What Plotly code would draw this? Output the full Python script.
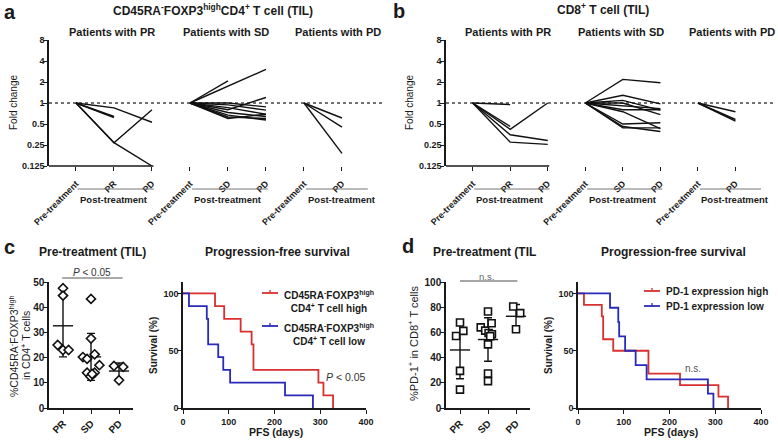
import numpy as np
import plotly.graph_objects as go

W, H = 778, 440
FONT = "Liberation Sans, Arial, sans-serif"
INK = "#1a1a1a"
RED = "#d7302f"
BLUE = "#2a2ab8"

# ---------------- data ----------------
a_title = "CD45RA<sup>-</sup>FOXP3<sup>high</sup>CD4<sup>+</sup> T cell (TIL)"
b_title = "CD8<sup>+</sup> T cell (TIL)"
group_headers = ["Patients with PR", "Patients with SD", "Patients with PD"]
ab_tick_labels = ["Pre-treatment", "PR", "PD", "Pre-treatment", "SD", "PD", "Pre-treatment", "PD"]
group_slots = [[0, 1, 2], [3, 4, 5], [6, 7]]
post_label = "Post-treatment"
fold_ticks = [0.125, 0.25, 0.5, 1, 2, 4, 8]
fold_tick_text = ["0.125", "0.25", "0.5", "1", "2", "4", "8"]

# fold change per patient: [pre, post1, (post2)]
a_pr = [[1, 0.85, 0.53], [1, 0.64, None], [1, 0.62, None], [1, 0.27, 0.80], [1, 0.27, 0.125]]
a_sd = [[1, 2.07, None], [1, 1.72, 3.03], [1, 1.00, 0.88], [1, 0.94, 0.79], [1, 0.80, 1.20],
        [1, 0.86, 0.69], [1, 0.73, 0.64], [1, 0.67, 0.57], [1, 0.63, 0.60], [1, 0.60, 0.69]]
a_pd = [[1, 0.61], [1, 0.45], [1, 0.19]]

b_pr = [[1, 0.95, None], [1, 0.42, 1.0], [1, 0.46, None], [1, 0.35, 0.29], [1, 0.275, 0.255]]
b_sd = [[1, 2.18, 1.95], [1, 1.29, 0.97], [1, 1.09, 0.79], [1, 1.00, 0.68], [1, 0.90, 0.83],
        [1, 0.80, 0.80], [1, 0.75, 0.43], [1, 0.50, 0.52], [1, 0.46, 0.39], [1, 0.44, 0.44]]
b_pd = [[1, 0.75], [1, 0.58], [1, 0.55]]

resp_groups = ["PR", "SD", "PD"]
# panel c: % CD45RA-FOXP3high in CD4+ T cells (pre-treatment)
c_vals = [[47.5, 44.6, 25.0, 23.0, 23.0],
          [43.3, 27.6, 20.2, 19.5, 21.3, 17.0, 14.0, 12.5, 14.0, 13.5],
          [16.7, 16.3, 11.0]]
c_spread = [[0, 0, -0.19, 0, 0.2],
            [0, 0, -0.29, -0.14, 0.13, 0.3, -0.14, -0.02, 0.13, 0.04],
            [-0.18, 0.15, 0]]
# panel d: % PD-1+ in CD8+ T cells (pre-treatment)
d_vals = [[67.8, 57.2, 61.2, 29.5, 14.6],
          [76.6, 64.0, 67.3, 61.4, 59.5, 58.5, 57.0, 50.5, 27.4, 21.3],
          [80.6, 75.3, 62.5]]
d_spread = [[0, -0.14, 0.12, 0, 0],
            [0, -0.26, 0.13, -0.1, 0.02, 0.14, 0.08, 0, 0, 0],
            [-0.1, 0.15, 0]]

# Kaplan-Meier step data (days, survival %)
c_hi_t = [0, 70, 90, 126, 150, 154, 296, 307, 328]
c_hi_s = [100, 88.9, 77.8, 66.7, 55.6, 33.3, 22.2, 11.1, 0]
c_lo_t = [0, 13, 52, 55, 77, 88, 103, 223, 284]
c_lo_s = [100, 88.9, 77.8, 55.6, 44.4, 33.3, 22.2, 11.1, 0]
d_hi_t = [0, 13, 52, 55, 77, 154, 223, 307, 328]
d_hi_s = [100, 90, 80, 60, 50, 30, 20, 10, 0]
d_lo_t = [0, 70, 88, 90, 103, 126, 150, 284, 296]
d_lo_s = [100, 87.5, 75, 62.5, 50, 37.5, 25, 12.5, 0]
c_legend = ["CD45RA<sup>-</sup>FOXP3<sup>high</sup><br>CD4<sup>+</sup> T cell high",
            "CD45RA<sup>-</sup>FOXP3<sup>high</sup><br>CD4<sup>+</sup> T cell low"]
d_legend = ["PD-1 expression high", "PD-1 expression low"]

# ---------------- helpers ----------------
def px(x):
    return x / W

def py(y):
    return 1 - y / H

annotations = []
shapes = []

def ann(text, x, y, size, bold=False, xanchor="center", yanchor="middle", angle=0,
        color=INK, xref="paper"):
    annotations.append(dict(
        text=("<b>%s</b>" % text) if bold else text,
        x=x if xref != "paper" else px(x), y=py(y), xref=xref, yref="paper",
        showarrow=False, xanchor=xanchor, yanchor=yanchor, textangle=angle,
        font=dict(size=size, color=color, family=FONT)))

def pline(x0, y0, x1, y1, color=INK, width=1.5, xref="paper", yref="paper"):
    shapes.append(dict(type="line", xref=xref, yref=yref,
                       x0=x0 if xref != "paper" else px(x0),
                       x1=x1 if xref != "paper" else px(x1),
                       y0=y0 if yref != "paper" else py(y0),
                       y1=y1 if yref != "paper" else py(y1),
                       line=dict(color=color, width=width)))

TICKS = dict(ticks="outside", ticklen=4, tickwidth=1.3, tickcolor=INK, showgrid=False,
             zeroline=False, automargin=False)

fig = go.Figure()

# ---------------- panels a / b ----------------
AB_RANGE = [-0.71, 8.08]
for (xa, ya, groups) in [("x", "y", [a_pr, a_sd, a_pd]), ("x2", "y2", [b_pr, b_sd, b_pd])]:
    fig.add_trace(go.Scatter(x=AB_RANGE, y=[1, 1], mode="lines", xaxis=xa, yaxis=ya,
                             line=dict(color="#444", width=1.3, dash="dot"), hoverinfo="skip"))
    for slots, pts in zip(group_slots, groups):
        for p in pts:
            fig.add_trace(go.Scatter(x=slots, y=p, mode="lines", xaxis=xa, yaxis=ya,
                                     line=dict(color="#111", width=1.4), connectgaps=False))

def ab_axes(xdom):
    xa = dict(domain=[px(xdom[0]), px(xdom[1])], range=AB_RANGE, tickmode="array",
              tickvals=list(range(8)), ticktext=ab_tick_labels, tickangle=-45,
              showline=False, ticklabelstandoff=4, **TICKS,
              tickfont=dict(size=9, family=FONT, color=INK, weight="bold"))
    ya = dict(domain=[py(166), py(40)], type="log", range=[np.log10(0.125), np.log10(8)],
              tickmode="array", tickvals=fold_ticks, ticktext=fold_tick_text,
              showline=True, linecolor=INK, linewidth=1.5, ticklabelstandoff=-3, **TICKS,
              tickfont=dict(size=9, family=FONT, color=INK, weight="bold"))
    return xa, ya

xa1, ya1 = ab_axes((49, 383))
xa2, ya2 = ab_axes((446, 776))
xa1["anchor"] = "y"; ya1["anchor"] = "x"
xa2["anchor"] = "y2"; ya2["anchor"] = "x2"

for xr, yr in [("x", "y"), ("x2", "y2")]:
    # first-segment axis line
    shapes.append(dict(type="line", xref=xr, yref=yr + " domain", x0=AB_RANGE[0], x1=2.04,
                       y0=0, y1=0, line=dict(color=INK, width=1.5)))
    for (s0, s1, c) in [(0.04, 2.05, 1), (3.05, 5.05, 4), (6.05, 7.68, 7)]:
        pline(s0, 189, s1, 189, color="#777", width=1, xref=xr)
        ann(post_label, c, 199, 9.5, bold=True, xref=xr)
    for hc, htxt in zip([0.95, 3.95, 6.9], group_headers):
        ann(htxt, hc, 32, 11, bold=True, xref=xr)

ann(a_title, 213, 10, 12, bold=True)
ann(b_title, 603, 9, 12, bold=True)
ann("Fold change", 13, 103, 10, angle=-90)
ann("Fold change", 409, 103, 10, angle=-90)
ann("a", 2, 12, 20, bold=True, xanchor="left")
ann("b", 391, 11, 20, bold=True, xanchor="left")
ann("c", 2, 247, 20, bold=True, xanchor="left")
ann("d", 400, 246, 20, bold=True, xanchor="left")

# ---------------- scatter panels c / d ----------------
def scatter_panel(xa, ya, vals, spread, symbol):
    for i, (v, s) in enumerate(zip(vals, spread)):
        v = np.array(v, dtype=float)
        m, sd = v.mean(), v.std(ddof=1)
        fig.add_trace(go.Scatter(x=[i], y=[m], mode="markers", xaxis=xa, yaxis=ya,
                                 marker=dict(size=1, color="rgba(0,0,0,0)"),
                                 error_y=dict(type="data", array=[sd], visible=True,
                                              color="#111", thickness=1.4, width=4)))
        fig.add_trace(go.Scatter(x=[i - 0.36, i + 0.36], y=[m, m], mode="lines",
                                 xaxis=xa, yaxis=ya, line=dict(color="#111", width=1.4)))
        fig.add_trace(go.Scatter(x=[i + o for o in s], y=v, mode="markers", xaxis=xa, yaxis=ya,
                                 marker=dict(symbol=symbol, size=7, color="white",
                                             line=dict(color="#111", width=1.6))))

scatter_panel("x3", "y3", c_vals, c_spread, "diamond")
scatter_panel("x5", "y5", d_vals, d_spread, "square")

def scat_axes(xdom, xanchor, yanchor, ymax, dtick):
    xa = dict(domain=[px(xdom[0]), px(xdom[1])], range=[-0.5, 2.5], tickmode="array",
              tickvals=[0, 1, 2], ticktext=resp_groups, tickangle=-45,
              showline=True, linecolor=INK, linewidth=1.5, anchor=yanchor, **TICKS,
              tickfont=dict(size=10, family=FONT, color=INK, weight="bold"))
    ya = dict(domain=[py(408), py(282)], range=[0, ymax], dtick=dtick,
              showline=True, linecolor=INK, linewidth=1.5, anchor=xanchor,
              ticklabelstandoff=-3, **TICKS,
              tickfont=dict(size=10, family=FONT, color=INK, weight="bold"))
    return xa, ya

xa3, ya3 = scat_axes((49, 133), "x3", "y3", 50, 10)
xa5, ya5 = scat_axes((446, 530), "x5", "y5", 100, 20)

ann("Pre-treatment (TIL)", 92, 252, 12, bold=True)
ann("Pre-treatment (TIL", 431, 252, 12, bold=True, xanchor="left")
pline(-0.03, 278, 2.13, 278, color="#555", width=1, xref="x3")
ann("<i>P</i> < 0.05", 1.05, 272, 10, color="#333", xref="x3")
pline(0.0, 281, 2.05, 281, color="#888", width=1.3, xref="x5")
ann("n.s.", 0.95, 276, 9.5, color="#666", xref="x5")
ann("%CD45RA<sup>-</sup>FOXP3<sup>high</sup>", 13, 346, 10.5, angle=-90)
ann("in CD4<sup>+</sup> T cells", 25, 346, 10.5, angle=-90)
ann("%PD-1<sup>+</sup> in CD8<sup>+</sup> T cells", 413, 344, 11, angle=-90)

# ---------------- Kaplan-Meier panels ----------------
for xa, ya, curves in [("x4", "y4", [(c_hi_t, c_hi_s, RED), (c_lo_t, c_lo_s, BLUE)]),
                       ("x6", "y6", [(d_hi_t, d_hi_s, RED), (d_lo_t, d_lo_s, BLUE)])]:
    for t, s, col in curves:
        fig.add_trace(go.Scatter(x=t, y=s, mode="lines", line_shape="hv", xaxis=xa, yaxis=ya,
                                 line=dict(color=col, width=1.8)))

def km_axes(xdom, xanchor, yanchor):
    xa = dict(domain=[px(xdom[0]), px(xdom[1])], range=[0, 400], dtick=100,
              showline=True, linecolor=INK, linewidth=1.5, anchor=yanchor, **TICKS,
              tickfont=dict(size=9, family=FONT, color=INK, weight="bold"))
    ya = dict(domain=[py(408), py(282)], range=[0, 110], tickmode="array",
              tickvals=[0, 50, 100], showline=True, linecolor=INK, linewidth=1.5,
              anchor=xanchor, ticklabelstandoff=-3, **TICKS,
              tickfont=dict(size=9, family=FONT, color=INK, weight="bold"))
    return xa, ya

xa4, ya4 = km_axes((183, 366), "x4", "y4")
xa6, ya6 = km_axes((578, 761), "x6", "y6")

for cx in (277, 673):
    ann("Progression-free survival", cx, 252, 12, bold=True)
ann("PFS (days)", 276, 432, 10.5, bold=True)
ann("PFS (days)", 671, 432, 10.5, bold=True)
ann("Survival (%)", 153, 346, 10, bold=True, angle=-90)
ann("Survival (%)", 548, 346, 10, bold=True, angle=-90)

# legends
for (yl, col, txt) in [(293, RED, c_legend[0]), (326, BLUE, c_legend[1])]:
    pline(262, yl, 278, yl, color=col, width=1.8)
    pline(270, yl, 270, yl - 3, color=col, width=1.3)
    ann(txt, 282, yl - 6, 10, bold=True, xanchor="left", yanchor="top")
for (yl, col, txt) in [(291, RED, d_legend[0]), (306, BLUE, d_legend[1])]:
    pline(644, yl, 660, yl, color=col, width=1.8)
    pline(652, yl, 652, yl - 3, color=col, width=1.3)
    ann(txt, 664, yl, 10, bold=True, xanchor="left")
ann("<i>P</i> < 0.05", 324, 377, 10.5, color="#333", xanchor="left")
ann("n.s.", 693, 368, 10, color="#555")

fig.update_layout(
    width=W, height=H, autosize=False,
    margin=dict(l=0, r=0, t=0, b=0, pad=0, autoexpand=False),
    paper_bgcolor="white", plot_bgcolor="white", showlegend=False,
    font=dict(family=FONT, color=INK),
    xaxis=xa1, yaxis=ya1, xaxis2=xa2, yaxis2=ya2,
    xaxis3=xa3, yaxis3=ya3, xaxis4=xa4, yaxis4=ya4,
    xaxis5=xa5, yaxis5=ya5, xaxis6=xa6, yaxis6=ya6,
    annotations=annotations, shapes=shapes,
)

fig.write_html("out.html", config={"displayModeBar": False},
               post_script="document.body.style.margin='0px';document.body.style.padding='0px';")
